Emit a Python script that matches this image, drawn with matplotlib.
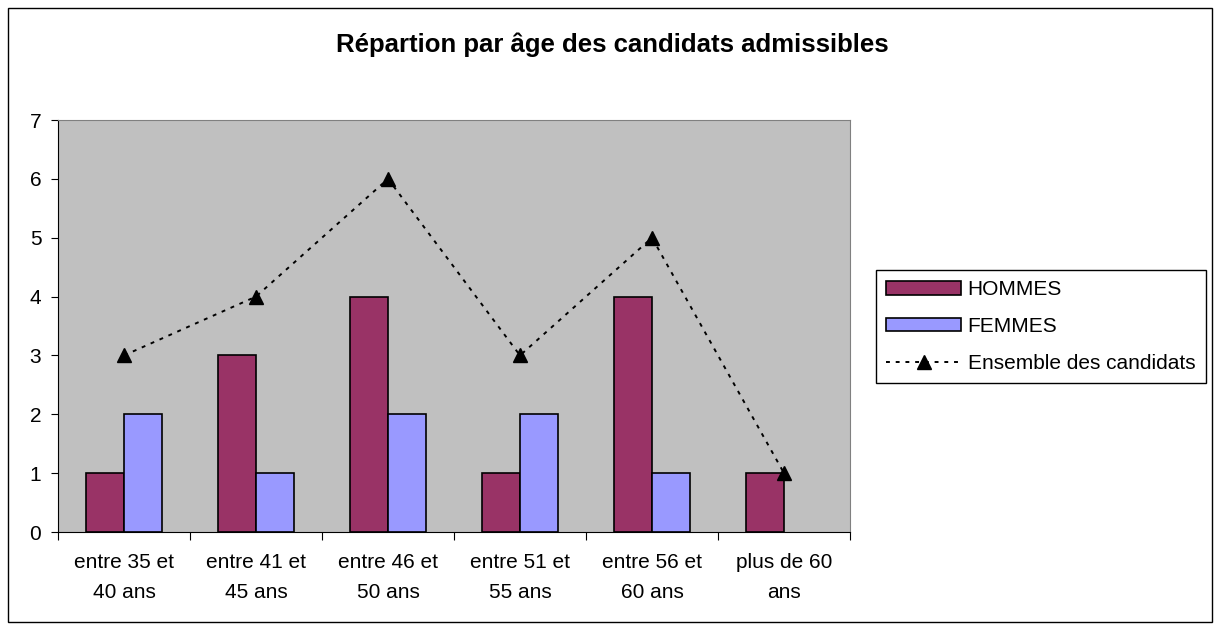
import numpy as np
import matplotlib.pyplot as plt
from matplotlib.patches import Rectangle

plt.rcParams['font.family'] = ['Liberation Sans', 'DejaVu Sans']

categories = ['entre 35 et\n40 ans', 'entre 41 et\n45 ans', 'entre 46 et\n50 ans',
              'entre 51 et\n55 ans', 'entre 56 et\n60 ans', 'plus de 60\nans']
hommes = [1, 3, 4, 1, 4, 1]
femmes = [2, 1, 2, 2, 1, 0]
ensemble = [3, 4, 6, 3, 5, 1]

fig = plt.figure(figsize=(12.17, 6.30), dpi=100)
fig.patches.append(Rectangle((8 / 1217, 8 / 630), 1204 / 1217, 614 / 630,
                             transform=fig.transFigure, fill=False,
                             edgecolor='black', linewidth=1))

ax = fig.add_axes([58 / 1217, 98 / 630, 792 / 1217, 412 / 630])
ax.set_facecolor('#C0C0C0')

x = np.arange(len(categories))
w = 0.288
h1 = ax.bar(x - w / 2, hommes, w, color='#993366', edgecolor='black',
            linewidth=[1.2 if v else 0 for v in hommes], label='HOMMES')
h2 = ax.bar(x + w / 2, femmes, w, color='#9999FF', edgecolor='black',
            linewidth=[1.2 if v else 0 for v in femmes], label='FEMMES')
h3, = ax.plot(x, ensemble, color='black', linestyle=(0, (2, 3)), linewidth=1.4,
              marker='^', markersize=10, label='Ensemble des candidats')

ax.set_xlim(-0.5, 5.5)
ax.set_ylim(0, 7)
ax.set_yticks(range(8))
ax.set_xticks(np.arange(-0.5, 6, 1))
ax.set_xticklabels([])
ax.set_xticks(x, minor=True)
ax.set_xticklabels(categories, minor=True, fontsize=15, linespacing=1.75)
ax.tick_params(axis='x', which='minor', length=0, pad=15)
ax.tick_params(axis='x', which='major', length=6, direction='out')
ax.tick_params(axis='y', length=5, direction='out', labelsize=15, pad=7)

for s in ['top', 'right']:
    ax.spines[s].set_color('#808080')
for s in ['left', 'bottom']:
    ax.spines[s].set_color('black')

fig.text(612 / 1217, 1 - 45 / 630, 'Répartion par âge des candidats admissibles',
         ha='center', va='center', fontsize=18.5, fontweight='bold')

leg = fig.legend([h1, h2, h3], ['HOMMES', 'FEMMES', 'Ensemble des candidats'],
                 loc='upper left', bbox_to_anchor=(876 / 1217, 1 - 270 / 630),
                 fancybox=False, edgecolor='black', framealpha=1, fontsize=15,
                 handlelength=3.6, handleheight=0.6, handletextpad=0.3,
                 borderpad=0.5, labelspacing=0.85, borderaxespad=0)
leg.get_frame().set_linewidth(1)

fig.savefig('out.png', dpi=100)
